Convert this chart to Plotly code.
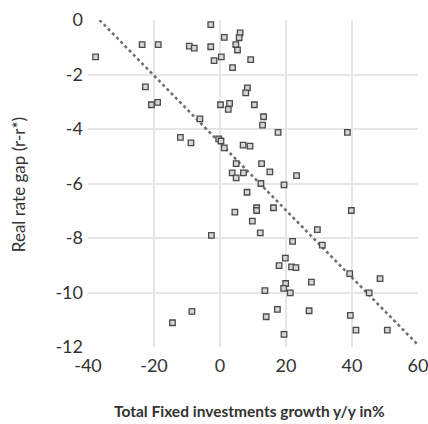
import plotly.graph_objects as go

# Data
investment_growth = [
    -37.7, -23.6, -18.7, -9.3, -7.8, -2.8, -2.8, -1.8, -22.6, -20.8,
    -18.9, -6.1, -12.0, -8.8, 1.3, 6.1, 5.8, 4.8, 5.3, 0.4,
    9.3, 3.8, 8.3, 7.8, 0.15, 2.9, 2.5, 10.4, 13.2, 12.9,
    17.6, 38.6, -0.4, 0.3, 1.3, 7.0, 9.1, 4.9, 12.6, 3.7,
    4.9, 7.1, 15.1, 23.2, 12.4, 19.4, 8.2, 4.5, 11.1, 11.1,
    16.2, 9.8, 12.2, -2.6, 39.8, 29.5, 22.0, 31.0, 19.8, 17.9,
    21.7, 23.0, 39.3, 48.5, 27.7, 19.9, 19.3, 21.3, 13.6, 45.2,
    17.4, 14.0, 27.0, 39.5, 41.2, 50.7, 19.4, -8.5, -14.4,
]
real_rate_gap = [
    -1.35, -0.9, -0.9, -0.96, -1.03, -0.98, -0.17, -1.49, -2.45, -3.11,
    -3.02, -3.63, -4.31, -4.51, -0.64, -0.47, -0.65, -0.9, -1.1, -1.35,
    -1.45, -1.75, -2.49, -2.67, -3.11, -3.06, -3.28, -3.11, -3.55, -3.86,
    -4.12, -4.12, -4.36, -4.44, -4.69, -4.59, -4.63, -5.27, -5.27, -5.61,
    -5.79, -5.61, -5.57, -5.71, -6.0, -6.05, -6.32, -7.05, -6.89, -6.99,
    -6.89, -7.38, -7.81, -7.9, -6.99, -7.69, -8.12, -8.26, -8.74, -9.01,
    -9.06, -9.09, -9.31, -9.49, -9.62, -9.67, -9.85, -10.01, -9.93, -10.01,
    -10.62, -10.89, -10.67, -10.84, -11.38, -11.38, -11.54, -10.69, -11.11,
]

# Linear trend line
trend_x = [-36.5, 59.8]
trend_y = [0.0, -11.9]

x_ticks = [-40, -20, 0, 20, 40, 60]
y_ticks = [0, -2, -4, -6, -8, -10, -12]

FONT = "Lato"
TXT = "#333333"

fig = go.Figure()
fig.add_trace(go.Scatter(
    x=trend_x, y=trend_y, mode="lines",
    line=dict(color="#707070", width=2.6, dash="dot"),
    hoverinfo="skip", showlegend=False, cliponaxis=False,
))
fig.add_trace(go.Scatter(
    x=investment_growth, y=real_rate_gap, mode="markers",
    marker=dict(symbol="square", size=5.5, color="#d6d6d6",
                line=dict(color="#4a4a4a", width=1.3)),
    showlegend=False, cliponaxis=False,
))

fig.update_layout(
    width=428, height=424,
    margin=dict(l=88, r=10, t=20, b=77, autoexpand=False),
    paper_bgcolor="white", plot_bgcolor="white",
    font=dict(family=FONT, color=TXT),
    annotations=[
        dict(text="Real rate gap (r-r*)", xref="paper", yref="paper",
             x=-0.212, y=0.495, textangle=-90, showarrow=False,
             xanchor="center", yanchor="middle",
             font=dict(size=17, color=TXT)),
        dict(text="<b>Total Fixed investments growth y/y in%</b>",
             xref="paper", yref="paper", x=0.49, y=-0.196,
             showarrow=False, xanchor="center", yanchor="middle",
             font=dict(size=15.5, color=TXT)),
    ],
)
fig.update_xaxes(
    range=[-40, 60.001], tickvals=x_ticks, ticktext=[str(v) for v in x_ticks],
    showgrid=True, gridcolor="#e6e6e6", gridwidth=1.5, zeroline=False,
    showline=False, ticks="", tickfont=dict(size=18, color=TXT),
    automargin=False, ticklabelstandoff=6, ticklabeloverflow="allow",
)
fig.update_yaxes(
    range=[-12, 0.001], tickvals=y_ticks, ticktext=[str(v) for v in y_ticks],
    showgrid=True, gridcolor="#e6e6e6", gridwidth=1.5, zeroline=False,
    showline=False, ticks="", tickfont=dict(size=18, color=TXT),
    automargin=False, ticklabelstandoff=4, ticklabeloverflow="allow",
)

fig.write_html("out.html", config={"displayModeBar": False},
               post_script="document.body.style.margin='0';")
